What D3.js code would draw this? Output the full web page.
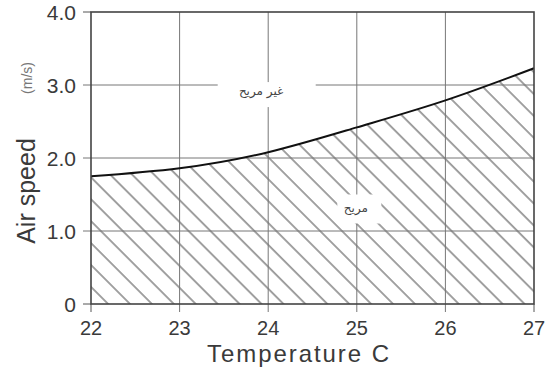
<!DOCTYPE html>
<html>
<head>
<meta charset="utf-8">
<script src="https://cdn.jsdelivr.net/npm/d3@7"></script>
<style>
  body { margin: 0; background: #fff; }
  svg { display: block; font-family: "Liberation Sans", Arial, sans-serif; }
</style>
</head>
<body>
<div id="chart"></div>
<script>
// comfort curve: air speed vs temperature
const temps = [22, 23, 24, 25, 26, 27];
const speeds = [1.75, 1.86, 2.08, 2.42, 2.79, 3.23];
const yTicks = [0, 1, 2, 3, 4];
const yTickLabels = ["0", "1.0", "2.0", "3.0", "4.0"];
const regionNames = ["غير مريح", "مريح"];

const width = 547, height = 370;
const margin = {top: 12, right: 13, bottom: 66, left: 91};

const svg = d3.select("#chart").append("svg")
    .attr("width", width)
    .attr("height", height);

const x = d3.scaleLinear().domain([22, 27]).range([margin.left, width - margin.right]);
const y = d3.scaleLinear().domain([0, 4]).range([height - margin.bottom, margin.top]);

const defs = svg.append("defs");
defs.append("pattern")
    .attr("id", "hatch")
    .attr("patternUnits", "userSpaceOnUse")
    .attr("width", 15.5)
    .attr("height", 15.5)
    .attr("patternTransform", "rotate(-45)")
    .append("line")
    .attr("x1", 1).attr("y1", 0)
    .attr("x2", 1).attr("y2", 15.5)
    .attr("stroke", "#555")
    .attr("stroke-width", 1.1);

const pts = temps.map((t, i) => [t, speeds[i]]);

// hatched area under the curve
svg.append("path")
    .datum(pts)
    .attr("fill", "url(#hatch)")
    .attr("d", d3.area()
        .x(d => x(d[0]))
        .y0(y(0))
        .y1(d => y(d[1]))
        .curve(d3.curveNatural));

// grid
svg.append("g")
    .selectAll("line")
    .data(temps.slice(1, -1))
    .join("line")
    .attr("x1", d => x(d)).attr("x2", d => x(d))
    .attr("y1", y(4)).attr("y2", y(0) + 8)
    .attr("stroke", "#777")
    .attr("stroke-width", 1);

svg.append("g")
    .selectAll("line")
    .data(yTicks.slice(1, -1))
    .join("line")
    .attr("x1", margin.left - 8).attr("x2", width - margin.right)
    .attr("y1", d => y(d)).attr("y2", d => y(d))
    .attr("stroke", "#777")
    .attr("stroke-width", 1);

// ticks on frame
svg.append("g")
    .selectAll("line")
    .data([22, 27])
    .join("line")
    .attr("x1", d => x(d)).attr("x2", d => x(d))
    .attr("y1", y(0)).attr("y2", y(0) + 8)
    .attr("stroke", "#555");
svg.append("g")
    .selectAll("line")
    .data([0, 4])
    .join("line")
    .attr("x1", margin.left - 8).attr("x2", margin.left)
    .attr("y1", d => y(d)).attr("y2", d => y(d))
    .attr("stroke", "#555");

// curve
svg.append("path")
    .datum(pts)
    .attr("fill", "none")
    .attr("stroke", "#111")
    .attr("stroke-width", 2)
    .attr("d", d3.line()
        .x(d => x(d[0]))
        .y(d => y(d[1]))
        .curve(d3.curveNatural));

// frame
svg.append("rect")
    .attr("x", x(22)).attr("y", y(4))
    .attr("width", x(27) - x(22))
    .attr("height", y(0) - y(4))
    .attr("fill", "none")
    .attr("stroke", "#444")
    .attr("stroke-width", 1.6);

// region labels with white backing
const lab = svg.append("g");
lab.append("rect")
    .attr("x", x(23.43)).attr("y", y(3.04))
    .attr("width", 98).attr("height", 25)
    .attr("fill", "#fff");
lab.append("text")
    .attr("x", x(23.92)).attr("y", y(2.86))
    .attr("text-anchor", "middle")
    .attr("font-family", "DejaVu Sans, sans-serif")
    .attr("font-size", 12)
    .attr("fill", "#444")
    .text(regionNames[0]);
lab.append("rect")
    .attr("x", x(24.78)).attr("y", y(1.5))
    .attr("width", 44).attr("height", 29)
    .attr("fill", "#fff");
lab.append("text")
    .attr("x", x(24.99)).attr("y", y(1.26))
    .attr("text-anchor", "middle")
    .attr("font-family", "DejaVu Sans, sans-serif")
    .attr("font-size", 12)
    .attr("fill", "#444")
    .text(regionNames[1]);

// tick labels
svg.append("g")
    .selectAll("text")
    .data(yTicks)
    .join("text")
    .attr("x", margin.left - 15)
    .attr("y", d => y(d))
    .attr("dy", "0.36em")
    .attr("text-anchor", "end")
    .attr("font-size", 21)
    .attr("fill", "#3a3a3a")
    .text((d, i) => yTickLabels[i]);

svg.append("g")
    .selectAll("text")
    .data(temps)
    .join("text")
    .attr("x", d => x(d))
    .attr("y", y(0) + 31)
    .attr("text-anchor", "middle")
    .attr("font-size", 20)
    .attr("fill", "#3a3a3a")
    .text(d => d);

// axis titles
svg.append("text")
    .attr("x", 298).attr("y", 362)
    .attr("text-anchor", "middle")
    .attr("font-size", 24)
    .attr("textLength", 182)
    .attr("fill", "#3a3a3a")
    .text("Temperature C");

svg.append("text")
    .attr("transform", `translate(35, 191) rotate(-90)`)
    .attr("text-anchor", "middle")
    .attr("font-size", 25)
    .attr("fill", "#3a3a3a")
    .text("Air speed");

svg.append("text")
    .attr("transform", `translate(32, 78) rotate(-90)`)
    .attr("text-anchor", "middle")
    .attr("font-size", 14)
    .attr("fill", "#777")
    .text("(m/s)");
</script>
</body>
</html>
